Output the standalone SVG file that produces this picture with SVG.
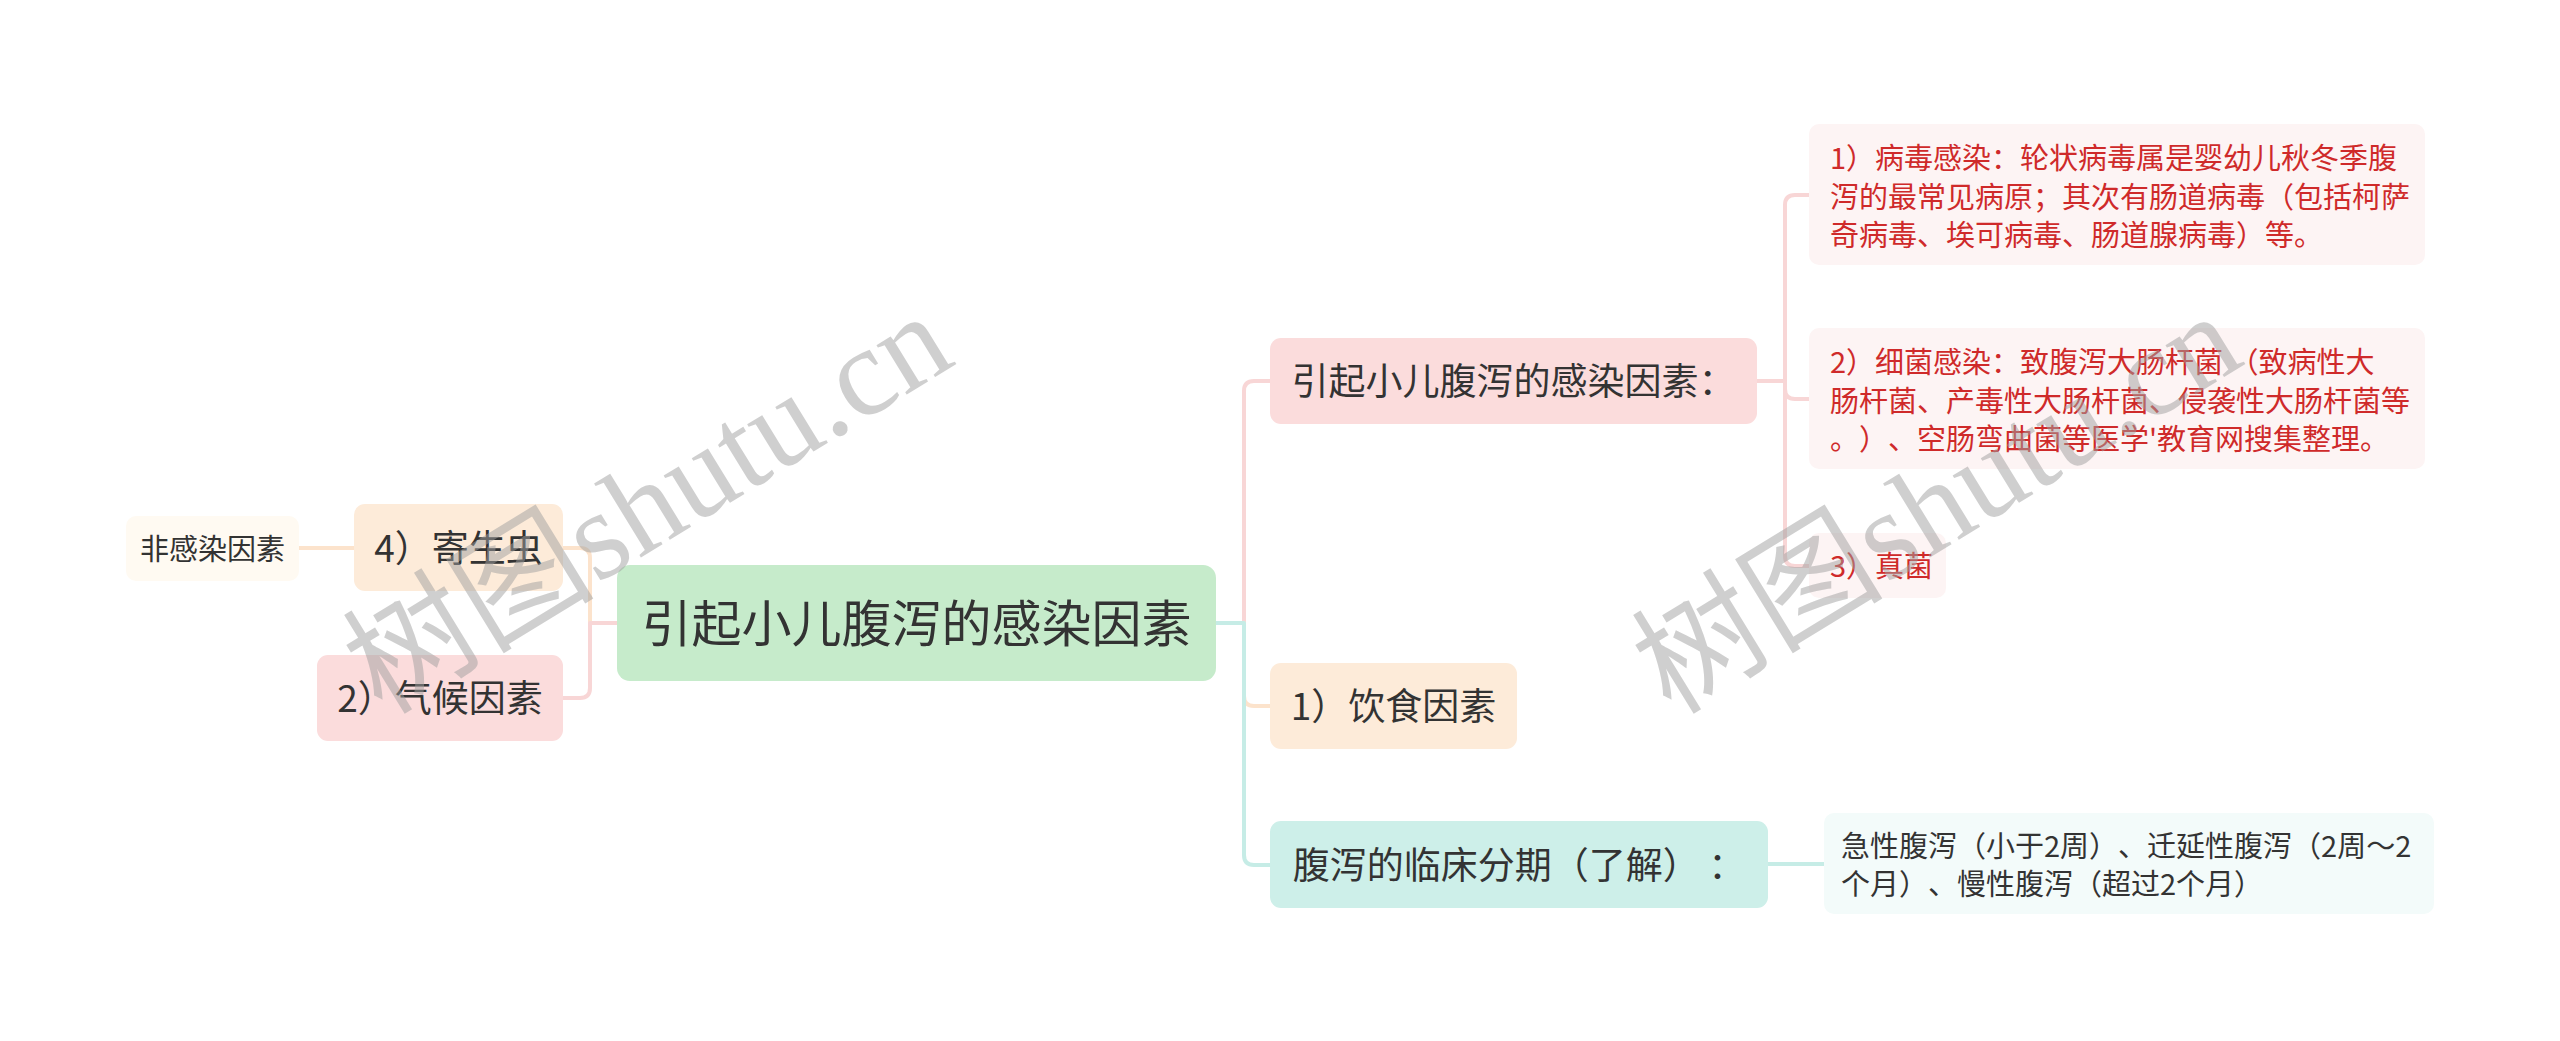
<svg xmlns="http://www.w3.org/2000/svg" width="2560" height="1041" viewBox="0 0 2560 1041">
<style>
text{font-family:"Noto Sans CJK SC","Noto Sans",sans-serif;text-spacing-trim:space-all;}
.dark{fill:#333333;}
.red{fill:#cf2a2a;}
.c{text-anchor:middle;}
.f50{font-size:50px;}
.f37{font-size:37px;}
.f29{font-size:29px;}
.ln{fill:none;stroke-width:4;stroke-linecap:round;stroke-linejoin:round;}
.pink{stroke:#f8d6d6;}
.beige{stroke:#fce3cc;}
.teal{stroke:#c6ece6;}
.wm{fill:#a0a0a0;opacity:0.5;font-size:126px;}
</style>
<rect width="2560" height="1041" fill="#ffffff"/>
<g id="connectors">
<path class="ln beige" d="M354,548 H299"/>
<path class="ln beige" d="M617,623 H590 V558 Q590,548 580,548 H563"/>
<path class="ln pink" d="M617,623 H590 V688 Q590,698 580,698 H563"/>
<path class="ln pink" d="M1216,623 H1244 V391 Q1244,381 1254,381 H1270"/>
<path class="ln beige" d="M1216,623 H1244 V696 Q1244,706 1254,706 H1270"/>
<path class="ln teal" d="M1216,623 H1244 V855 Q1244,865 1254,865 H1270"/>
<path class="ln pink" d="M1757,381 H1785 V205 Q1785,195 1795,195 H1809"/>
<path class="ln pink" d="M1757,381 H1785 V389 Q1785,399 1795,399 H1809"/>
<path class="ln pink" d="M1757,381 H1785 V556 Q1785,566 1795,566 H1809"/>
<path class="ln teal" d="M1768,864 H1824"/>
</g>
<g id="root">
<rect x="617" y="565" width="599" height="116" rx="13" fill="#c6ebcb"/>
<text class="dark c f50" x="916.5" y="642">引起小儿腹泻的感染因素</text>
</g>
<g id="n-jishengchong">
<rect x="354" y="504" width="209" height="87" rx="11" fill="#fdebd9"/>
<text class="dark c f37" x="458.5" y="561.5">4）寄生虫</text>
</g>
<g id="n-feiganran">
<rect x="126" y="516" width="173" height="65" rx="10" fill="#fffaf2"/>
<text class="dark c f29" x="212.5" y="559.5">非感染因素</text>
</g>
<g id="n-qihou">
<rect x="317" y="655" width="246" height="86" rx="11" fill="#fbdcdc"/>
<text class="dark c f37" x="440" y="712">2）气候因素</text>
</g>
<g id="n-ganran">
<rect x="1270" y="338" width="487" height="86" rx="11" fill="#fbdcdc"/>
<text class="dark c f37" x="1513.5" y="395">引起小儿腹泻的感染因素：</text>
</g>
<g id="n-yinshi">
<rect x="1270" y="663" width="247" height="86" rx="11" fill="#fdebd9"/>
<text class="dark c f37" x="1393.5" y="720">1）饮食因素</text>
</g>
<g id="n-linchuang">
<rect x="1270" y="821" width="498" height="87" rx="11" fill="#cdefe9"/>
<text class="dark c f37" x="1519" y="878.5">腹泻的临床分期（了解） ：</text>
</g>
<g id="n-bingdu">
<rect x="1809" y="124" width="616" height="141" rx="10" fill="#fdf4f4"/>
<text class="red f29" x="1830" y="169">
<tspan x="1830" y="169">1）病毒感染：轮状病毒属是婴幼儿秋冬季腹</tspan>
<tspan x="1830" y="207.5">泻的最常见病原；其次有肠道病毒（包括柯萨</tspan>
<tspan x="1830" y="246">奇病毒、埃可病毒、肠道腺病毒）等。</tspan>
</text>
</g>
<g id="n-xijun">
<rect x="1809" y="328" width="616" height="141" rx="10" fill="#fdf4f4"/>
<text class="red f29" x="1830" y="373">
<tspan x="1830" y="373">2）细菌感染：致腹泻大肠杆菌 （致病性大</tspan>
<tspan x="1830" y="411.5">肠杆菌、产毒性大肠杆菌、侵袭性大肠杆菌等</tspan>
<tspan x="1830" y="450">。）、空肠弯曲菌等医学'教育网搜集整理。</tspan>
</text>
</g>
<g id="n-zhenjun">
<rect x="1809" y="533" width="137" height="65" rx="10" fill="#fdf4f4"/>
<text class="red f29" x="1830" y="577">3）真菌</text>
</g>
<g id="n-fenqi">
<rect x="1824" y="813" width="610" height="101" rx="10" fill="#f3fbfa"/>
<text class="dark f29" x="1841" y="857">
<tspan x="1841" y="857">急性腹泻（小于2周）、迁延性腹泻（2周～2</tspan>
<tspan x="1841" y="895">个月）、慢性腹泻（超过2个月）</tspan>
</text>
</g>
<g id="watermarks">
<text class="wm" transform="translate(382,716) rotate(-31.5)">树图<tspan font-family="'Liberation Serif',serif">shutu.cn</tspan></text>
<text class="wm" transform="translate(1671,716) rotate(-31.5)">树图<tspan font-family="'Liberation Serif',serif">shutu.cn</tspan></text>
</g>
</svg>
